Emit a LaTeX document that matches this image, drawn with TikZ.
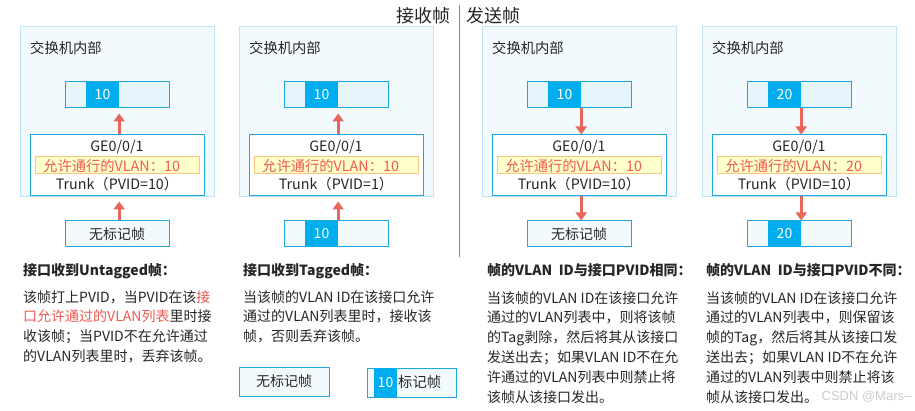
\documentclass[tikz,border=0pt]{standalone}
\usepackage{fontspec}
\setmainfont{Noto Sans CJK SC}
\newfontfamily\wmfont{Liberation Sans}
\usetikzlibrary{arrows.meta}
\definecolor{swfill}{HTML}{F3FAFD}
\definecolor{swline}{HTML}{BEE4F4}
\definecolor{bl}{HTML}{1EA6DF}
\definecolor{dkblue}{HTML}{00AEEF}
\definecolor{barfill}{HTML}{E6F5FC}
\definecolor{frfill}{HTML}{F3FAFD}
\definecolor{arrowred}{HTML}{E8675B}
\definecolor{ylw}{HTML}{FFFFCC}
\definecolor{ylwline}{HTML}{F9C67A}
\definecolor{redtxt}{HTML}{F05A50}
\definecolor{txt}{HTML}{262626}
\newcommand\fsz[1]{\fontsize{#1}{#1}\selectfont}
\tikzset{
  swbox/.style={draw=swline, fill=swfill, line width=1pt, minimum width=194pt, minimum height=170pt, inner sep=0pt},
  barbox/.style={draw=bl, fill=barfill, line width=1pt, minimum width=104pt, minimum height=26pt, inner sep=0pt, font=\fsz{14}},
  frbox/.style={barbox, fill=frfill},
  dkseg/.style={fill=dkblue, minimum width=33pt, minimum height=26pt, inner sep=0pt, text=white, font=\fsz{14}},
  portbox/.style={draw=bl, fill=white, line width=1pt, minimum width=174pt, minimum height=61pt, inner sep=0pt},
  ylwbox/.style={draw=ylwline, fill=ylw, line width=1pt, minimum width=164pt, minimum height=17pt, inner sep=0pt},
  flow/.style={draw=arrowred, line width=3pt, -{Triangle[width=11pt,length=8pt]}},
  lbl/.style={inner sep=0pt, font=\fsz{14.3}},
  body/.style={anchor=north west, inner sep=0pt, align=left, font=\fontsize{14}{19.8}\selectfont},
  head/.style={anchor=west, inner sep=0pt, font=\bfseries\fsz{14}},
}
\newcommand\swpanel[5]{%
  \node[swbox] (sw#2) at ({#1+97},112) {};
  \node[lbl, anchor=west] (lb#2) at ({#1+10},48) {交换机内部};
  \node[barbox] (bar#2) at ({#1+97},95) {};
  \node[dkseg] (dk#2) at ({#1+82.5},95) {#3};
  \node[portbox] (port#2) at ({#1+97},165.5) {};
  \node[lbl] (ge#2) at ({#1+97},147) {GE0/0/1};
  \node[ylwbox] (yl#2) at ({#1+97},165.5) {};
  \node[lbl, anchor=west, text=redtxt] (al#2) at ({#1+23},166) {允许通行的VLAN：#4};
  \node[lbl] (tr#2) at ({#1+97},184) {Trunk（PVID=#5）};
}
\begin{document}
\begin{tikzpicture}[x=1pt,y=-1pt, every node/.style={text=txt}]
\fill[white] (0,0) rectangle (915,411);
\useasboundingbox (0,0) rectangle (915,411);

% headings and divider
\node[anchor=east, inner sep=0pt, font=\fsz{18}] (rx) at (451,16) {接收帧};
\node[anchor=west, inner sep=0pt, font=\fsz{18}] (tx) at (466,16) {发送帧};
\draw[bl, line width=1pt] (459,5) -- (459,257);

% panels
\swpanel{20}{1}{10}{10}{10}
\swpanel{239}{2}{10}{10}{1}
\swpanel{482}{3}{10}{10}{10}
\swpanel{702}{4}{20}{20}{10}

% bottom frames
\node[frbox] (fr1) at (117,234) {无标记帧};
\node[frbox] (fr2) at (336,234) {};
\node[dkseg] (fd2) at (321.5,234) {10};
\node[frbox] (fr3) at (579,234) {无标记帧};
\node[frbox] (fr4) at (799,234) {};
\node[dkseg] (fd4) at (784.5,234) {20};

% arrows
\draw[flow, shorten >=5pt] (port1.north -| dk1.east) -- (bar1.south -| dk1.east);
\draw[flow, shorten >=5pt] (fr1.north -| dk1.east) -- (port1.south -| dk1.east);
\draw[flow, shorten >=5pt] (port2.north -| dk2.east) -- (bar2.south -| dk2.east);
\draw[flow, shorten >=5pt] (fr2.north -| dk2.east) -- (port2.south -| dk2.east);
\draw[flow] (bar3.south -| dk3.east) -- (port3.north -| dk3.east);
\draw[flow] (port3.south -| dk3.east) -- (fr3.north -| dk3.east);
\draw[flow] (bar4.south -| dk4.east) -- (port4.north -| dk4.east);
\draw[flow] (port4.south -| dk4.east) -- (fr4.north -| dk4.east);

% text columns
\node[head] (h1) at (23,271) {接口收到Untagged帧：};
\node[body] (t1) at (23,290) {该帧打上PVID，当PVID在该\textcolor{redtxt}{接}\\
\textcolor{redtxt}{口允许通过的VLAN列表}里时接\\
收该帧；当PVID不在允许通过\\
的VLAN列表里时，丢弃该帧。};

\node[head] (h2) at (243,271) {接口收到Tagged帧：};
\node[body] (t2) at (243,290) {当该帧的VLAN ID在该接口允许\\
通过的VLAN列表里时，接收该\\
帧，否则丢弃该帧。};

\node[head] (h3) at (487,270) {帧的VLAN\ \ ID与接口PVID相同：};
\node[body] (t3) at (487,291) {当该帧的VLAN ID在该接口允许\\
通过的VLAN列表中，则将该帧\\
的Tag剥除，然后将其从该接口\\
发送出去；如果VLAN ID不在允\\
许通过的VLAN列表中则禁止将\\
该帧从该接口发出。};

\node[head] (h4) at (706,270) {帧的VLAN\ \ ID与接口PVID不同：};
\node[body] (t4) at (706,291) {当该帧的VLAN ID在该接口允许\\
通过的VLAN列表中，则保留该\\
帧的Tag，然后将其从该接口发\\
送出去；如果VLAN ID不在允许\\
通过的VLAN列表中则禁止将该\\
帧从该接口发出。};

% legend
\node[frbox, minimum width=90pt, minimum height=29pt] (lg1) at (284,381.5) {无标记帧};
\node[frbox, minimum width=89pt, minimum height=29pt] (lg2) at (411.5,382.5) {};
\node[dkseg, minimum width=23pt, minimum height=29pt] (lgd) at (385.5,382.5) {10};
\node[lbl, anchor=west] (lgt) at (398,382.5) {标记帧};

% watermark
\node[anchor=east, inner sep=0pt, text=gray!40, font=\wmfont\fsz{13}] (wm) at (913,397) {CSDN @Mars--};
\end{tikzpicture}
\end{document}
